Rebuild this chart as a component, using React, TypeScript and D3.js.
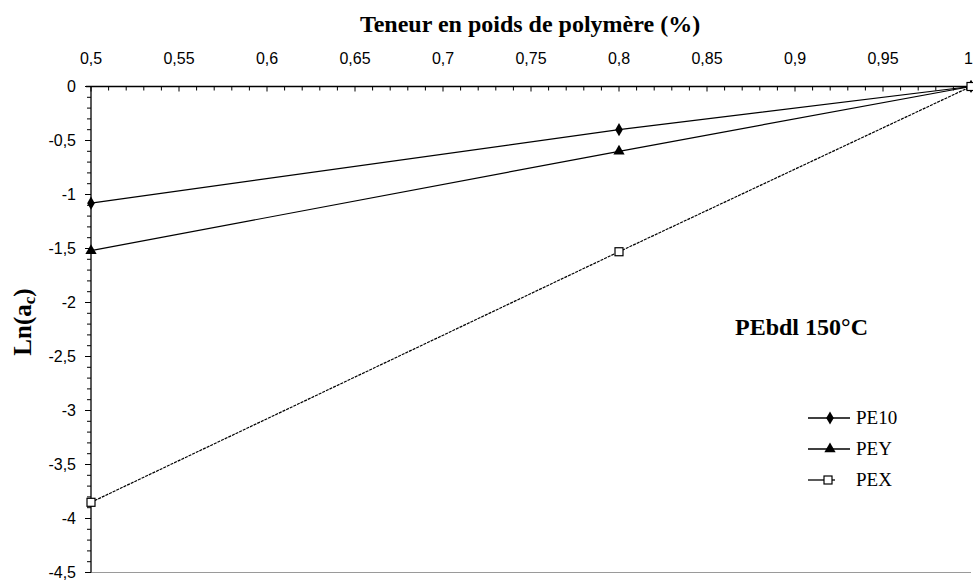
import React, { useEffect, useRef } from "react";
import * as d3 from "d3";

const xValues = [0.5, 0.8, 1];
const pe10 = [-1.08, -0.4, 0];
const pey = [-1.52, -0.6, 0];
const pex = [-3.85, -1.53, 0];
const xTicks = [0.5, 0.55, 0.6, 0.65, 0.7, 0.75, 0.8, 0.85, 0.9, 0.95, 1];
const yTicks = [0, -0.5, -1, -1.5, -2, -2.5, -3, -3.5, -4, -4.5];

const W = 973;
const H = 581;

const App = () => {
  const ref = useRef<SVGSVGElement>(null);

  useEffect(() => {
    const svg = d3.select(ref.current);
    svg.selectAll("*").remove();

    const x = d3.scaleLinear().domain([0.5, 1]).range([91, 971]);
    const y = d3.scaleLinear().domain([0, -4.5]).range([86.5, 572.5]);
    const fmt = (v: number) => String(v).replace(".", ",");
    const tickFont = "'Liberation Sans', Arial, sans-serif";
    const serif = "'Liberation Serif', 'Times New Roman', serif";

    svg.append("rect").attr("width", W).attr("height", H).attr("fill", "#fff");

    // bottom border of plot area
    svg.append("line")
      .attr("x1", x(0.5)).attr("x2", x(1))
      .attr("y1", y(-4.5)).attr("y2", y(-4.5))
      .attr("stroke", "#9a9a9a").attr("stroke-width", 1.2);

    // x axis on top, ticks pointing down
    const gx = svg.append("g");
    gx.append("line")
      .attr("x1", 86).attr("x2", x(1))
      .attr("y1", y(0)).attr("y2", y(0))
      .attr("stroke", "#000").attr("stroke-width", 1.3);
    d3.range(0, 51).forEach((i) => {
      const v = 0.5 + i * 0.01;
      const major = i % 5 === 0;
      gx.append("line")
        .attr("x1", x(v)).attr("x2", x(v))
        .attr("y1", y(0)).attr("y2", y(0) + (major ? 5 : 4))
        .attr("stroke", "#000").attr("stroke-width", 1);
    });
    gx.selectAll("text.xt")
      .data(xTicks)
      .enter()
      .append("text")
      .attr("x", (d) => (d === 1 ? W : x(d)))
      .attr("y", 64)
      .attr("text-anchor", (d) => (d === 1 ? "end" : "middle"))
      .attr("font-family", tickFont)
      .attr("font-size", 16)
      .attr("fill", "#000")
      .text((d) => fmt(d));

    // y axis, ticks pointing left
    const gy = svg.append("g");
    gy.append("line")
      .attr("x1", x(0.5)).attr("x2", x(0.5))
      .attr("y1", y(0)).attr("y2", y(-4.5))
      .attr("stroke", "#000").attr("stroke-width", 1.3);
    d3.range(0, 46).forEach((i) => {
      const v = -i * 0.1;
      const major = i % 5 === 0;
      gy.append("line")
        .attr("x1", x(0.5) - (major ? 6 : 4)).attr("x2", x(0.5))
        .attr("y1", y(v)).attr("y2", y(v))
        .attr("stroke", "#000").attr("stroke-width", 1);
    });
    gy.selectAll("text.yt")
      .data(yTicks)
      .enter()
      .append("text")
      .attr("x", 76)
      .attr("y", (d) => y(d) + 5.5)
      .attr("text-anchor", "end")
      .attr("font-family", tickFont)
      .attr("font-size", 16)
      .attr("fill", "#000")
      .text((d) => fmt(d));

    // titles
    svg.append("text")
      .attr("x", 530).attr("y", 32)
      .attr("text-anchor", "middle")
      .attr("font-family", serif)
      .attr("font-weight", "bold")
      .attr("font-size", 24)
      .text("Teneur en poids de polymère (%)");

    const yl = svg.append("text")
      .attr("transform", "translate(31,322) rotate(-90)")
      .attr("text-anchor", "middle")
      .attr("font-family", serif)
      .attr("font-weight", "bold")
      .attr("font-size", 25);
    yl.append("tspan").text("Ln(a");
    yl.append("tspan").attr("font-size", 17).attr("dy", 4).text("c");
    yl.append("tspan").attr("dy", -4).text(")");

    svg.append("text")
      .attr("x", 735).attr("y", 335)
      .attr("font-family", serif)
      .attr("font-weight", "bold")
      .attr("font-size", 24)
      .text("PEbdl 150°C");

    // series
    const line = d3.line<[number, number]>().x((d) => x(d[0])).y((d) => y(d[1]));
    const series = [
      { name: "PE10", values: pe10, marker: "diamond", dash: null },
      { name: "PEY", values: pey, marker: "triangle", dash: null },
      { name: "PEX", values: pex, marker: "square", dash: "3,1" },
    ];

    const drawMarker = (g: any, type: string, cx: number, cy: number) => {
      if (type === "diamond") {
        g.append("path")
          .attr("d", d3.symbol(d3.symbolDiamond, 50)())
          .attr("transform", `translate(${cx},${cy})`)
          .attr("fill", "#000");
      } else if (type === "triangle") {
        g.append("path")
          .attr("d", d3.symbol(d3.symbolTriangle, 55)())
          .attr("transform", `translate(${cx},${cy})`)
          .attr("fill", "#000");
      } else {
        g.append("rect")
          .attr("x", cx - 4).attr("y", cy - 4)
          .attr("width", 8).attr("height", 8)
          .attr("fill", "#fff").attr("stroke", "#000").attr("stroke-width", 1.2);
      }
    };

    series.forEach((s) => {
      const pts = xValues.map((v, i) => [v, s.values[i]] as [number, number]);
      const g = svg.append("g");
      g.append("path")
        .attr("d", line(pts))
        .attr("fill", "none")
        .attr("stroke", "#000")
        .attr("stroke-width", 1.2)
        .attr("stroke-dasharray", s.dash);
      pts.forEach((p) => drawMarker(g, s.marker, x(p[0]), y(p[1])));
    });

    // legend
    const legendY = [418, 449, 480];
    series.forEach((s, i) => {
      const g = svg.append("g");
      const ly = legendY[i];
      const x2 = s.marker === "square" ? 835 : 850;
      g.append("line")
        .attr("x1", 808).attr("x2", x2)
        .attr("y1", ly).attr("y2", ly)
        .attr("stroke", "#000").attr("stroke-width", 1.3);
      drawMarker(g, s.marker, s.marker === "square" ? 828 : 830, ly);
      g.append("text")
        .attr("x", 856).attr("y", ly + 6)
        .attr("font-family", serif)
        .attr("font-size", 19)
        .text(s.name);
    });
  }, []);

  return (
    <svg
      ref={ref}
      width={W}
      height={H}
      style={{ position: "absolute", left: 0, top: 0, display: "block" }}
    />
  );
};

export default App;
